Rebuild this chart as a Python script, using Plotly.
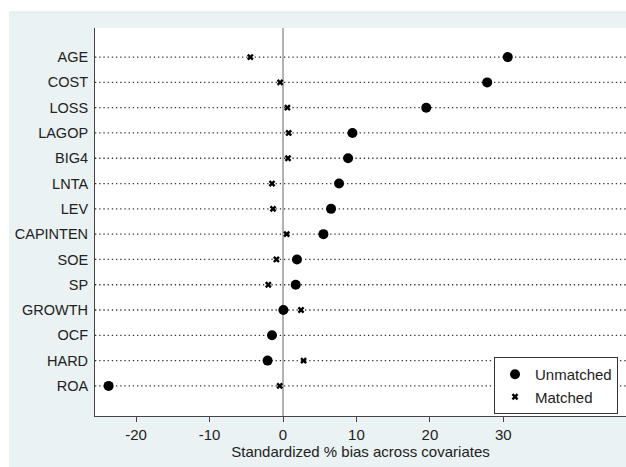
import plotly.graph_objects as go

covariates = ["AGE", "COST", "LOSS", "LAGOP", "BIG4", "LNTA", "LEV", "CAPINTEN",
              "SOE", "SP", "GROWTH", "OCF", "HARD", "ROA"]
unmatched = [30.6, 27.8, 19.5, 9.45, 8.86, 7.63, 6.54, 5.5, 1.9, 1.73, 0.05, -1.5, -2.1, -23.75]
matched = [-4.45, -0.4, 0.6, 0.77, 0.68, -1.5, -1.36, 0.5, -0.9, -2.0, 2.45, -1.45, 2.8, -0.45]
x_ticks = [-20, -10, 0, 10, 20, 30]
x_ticklabels = ["-20", "-10", "0", "10", "20", "30"]
x_title = "Standardized % bias across covariates"

FONT = "Liberation Sans, Arial, sans-serif"
BLUE = "#eaf2f3"

W, H = 626, 467
L, T, B = 95, 28, 51
PW, PH = W - L, H - T - B
X_RANGE = [-25.6, 46.7]

fig = go.Figure()
fig.add_trace(go.Scatter(
    x=unmatched, y=covariates, mode="markers", name="Unmatched",
    marker=dict(symbol="circle", size=10, color="black", line=dict(width=0)),
))
fig.add_trace(go.Scatter(
    x=matched, y=covariates, mode="markers", name="Matched",
    marker=dict(symbol="x", size=6, color="black", line=dict(width=0)),
))

cat_order = covariates[::-1]

# light-blue graph region around the (white) plot area
XL = (9 - L) / PW
YTOP = (PH + T - 12) / PH
fig.add_shape(type="rect", xref="paper", yref="paper", x0=XL, x1=1.05, y0=1, y1=YTOP,
              fillcolor=BLUE, line=dict(width=0), layer="below")
fig.add_shape(type="rect", xref="paper", yref="paper", x0=XL, x1=0, y0=-B / PH - 0.01, y1=YTOP,
              fillcolor=BLUE, line=dict(width=0), layer="below")
fig.add_shape(type="rect", xref="paper", yref="paper", x0=XL, x1=1.05, y0=-B / PH - 0.01, y1=0,
              fillcolor=BLUE, line=dict(width=0), layer="below")
fig.add_shape(type="line", xref="paper", yref="paper", x0=XL, x1=1.05, y0=YTOP, y1=YTOP,
              line=dict(width=1, color="#dfe6e8"), layer="below")

# dotted guide line for every covariate
for cov in covariates:
    fig.add_shape(type="line", xref="x", yref="y", x0=X_RANGE[0], x1=X_RANGE[1],
                  y0=cov, y1=cov, line=dict(color="#333", width=1.3, dash="1.3px,2.9px"),
                  layer="below")
# vertical reference line at zero
fig.add_shape(type="line", xref="x", yref="paper", x0=0, x1=0, y0=0, y1=1,
              line=dict(color="#999", width=1.5), layer="below")

fig.update_layout(
    width=W, height=H,
    margin=dict(l=L, r=0, t=T, b=B, pad=0, autoexpand=False),
    paper_bgcolor="white",
    plot_bgcolor="white",
    font=dict(family=FONT, size=14, color="#222"),
    showlegend=True,
    legend=dict(
        x=(618 - L) / PW, xanchor="right",
        y=(PH + T - 357) / PH, yanchor="top",
        bgcolor="white", bordercolor="#333", borderwidth=1,
        font=dict(family=FONT, size=15, color="#222"),
        itemwidth=30, tracegroupgap=0,
    ),
    xaxis=dict(
        range=X_RANGE, tickvals=x_ticks, ticktext=x_ticklabels,
        ticks="outside", ticklen=5, automargin=False,
        tickcolor="#444", tickwidth=1, showline=True, linecolor="#444", linewidth=1,
        showgrid=False, zeroline=False,
        title=dict(text=x_title, standoff=0, font=dict(size=15)),
        tickfont=dict(size=15),
    ),
    yaxis=dict(
        type="category", categoryorder="array", categoryarray=cat_order,
        range=[-1.19, 14.15], showline=True, linecolor="#444", linewidth=1,
        automargin=False, showgrid=False,
        ticks="outside", ticklen=3, tickcolor="rgba(0,0,0,0)",
        zeroline=False, tickfont=dict(size=14.5),
    ),
)

fig.write_html(
    "out.html",
    config={"displayModeBar": False},
    post_script=("document.documentElement.style.margin='0';"
                 "document.body.style.margin='0';"
                 "document.body.style.overflow='hidden';"),
)
